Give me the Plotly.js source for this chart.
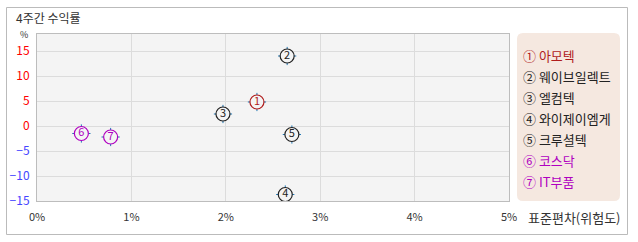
<!DOCTYPE html>
<html><head><meta charset="utf-8">
<script src="https://cdn.plot.ly/plotly-3.0.1.min.js"></script>
<style>html,body{margin:0;padding:0;background:#fff;}#c{width:638px;height:242px;}</style>
</head><body><div id="c"></div>
<script>
const names = ["아모텍","웨이브일렉트","엘컴텍","와이제이엠게","크루셜텍","코스닥","IT부품"];
const marks = ["①","②","③","④","⑤","⑥","⑦"];
const digits = ["1","2","3","4","5","6","7"];
const stdev = [2.33, 2.65, 1.97, 2.63, 2.70, 0.47, 0.78];
const ret4w = [4.8, 14.0, 2.4, -13.7, -1.7, -1.5, -2.2];
const colors = ["#b01c1c","#222222","#222222","#222222","#222222","#b000c0","#b000c0"];
const xTicks = [0,1,2,3,4,5];
const xTickText = ["0%","1%","2%","3%","4%","5%"];
const yTicks = [-15,-10,-5,0,5,10,15];

const W=638,H=242,L=37,R=509,T=34,B=201;
const px = x => (x-L)/(R-L);
const py = y => (B-y)/(B-T);
const font = "Noto Sans CJK KR, DejaVu Sans, sans-serif";

const yTickText = yTicks.map(v => `<span style="color:${v>=0?'#ff0000':'#4646ff'}">${v<0?'−'+(-v):v}</span>`);

const traces = [
  {x: stdev, y: ret4w, mode:'markers', type:'scatter', hoverinfo:'skip',
   marker:{symbol:'cross-thin-open', size:13, line:{color:colors, width:1}}},
  {x: stdev, y: ret4w, mode:'markers+text', type:'scatter', hoverinfo:'skip',
   text: digits, textposition:'middle center',
   textfont:{family:font, size:11, color:colors},
   marker:{symbol:'circle', size:14, color:'#f4f4f4', line:{color:colors, width:1.2}}}
];

// rounded legend background
const lx0=px(517), lx1=px(620), ly0=py(201), ly1=py(33);
const rx=6/(R-L), ry=6/(B-T);
const legendPath = `M ${lx0+rx} ${ly1} L ${lx1-rx} ${ly1} Q ${lx1} ${ly1} ${lx1} ${ly1-ry} L ${lx1} ${ly0+ry} Q ${lx1} ${ly0} ${lx1-rx} ${ly0} L ${lx0+rx} ${ly0} Q ${lx0} ${ly0} ${lx0} ${ly0+ry} L ${lx0} ${ly1-ry} Q ${lx0} ${ly1} ${lx0+rx} ${ly1} Z`;

const annotations = names.map((n,i)=>({
  xref:'paper', yref:'paper', x:px(521), y:py(55+i*21), xanchor:'left', yanchor:'middle',
  text: marks[i]+' '+n, showarrow:false, font:{family:font, size:13, color:colors[i]}
}));
annotations.push({xref:'paper', yref:'paper', x:px(24), y:py(34), xanchor:'center', yanchor:'middle',
  text:'%', showarrow:false, borderpad:0, font:{family:font, size:9, color:'#333'}});
annotations.push({xref:'paper', yref:'paper', x:px(526), y:py(217), xanchor:'left', yanchor:'middle',
  text:'표준편차(위험도)', showarrow:false, font:{family:font, size:13, color:'#333'}});

const layout = {
  width:W, height:H, margin:{l:L, r:W-R, t:T, b:H-B},
  paper_bgcolor:'#ffffff', plot_bgcolor:'#f4f4f4',
  showlegend:false,
  title:{text:'4주간 수익률', x:16/W, xanchor:'left', xref:'container', y:1-19/H, yanchor:'middle', yref:'container',
    font:{family:font, size:12, color:'#333'}},
  xaxis:{range:[0,5], tickvals:xTicks, ticktext:xTickText, showgrid:true, gridcolor:'#dcdcdc',
    zeroline:false, showline:true, linecolor:'#bdbdbd', mirror:true, ticks:'', ticklabelstandoff:6,
    tickfont:{family:font, size:11, color:'#333'}, fixedrange:true},
  yaxis:{range:[-15,18.4], tickvals:yTicks, ticktext:yTickText, showgrid:true, gridcolor:'#dcdcdc',
    zeroline:false, showline:true, linecolor:'#bdbdbd', mirror:true, ticks:'', ticklabelstandoff:4,
    tickfont:{family:font, size:12}, fixedrange:true},
  shapes:[
    {type:'rect', xref:'paper', yref:'paper', x0:px(6.5), x1:px(627.5), y0:py(234.5), y1:py(7.5),
     line:{color:'#bbbbbb', width:1}, fillcolor:'rgba(0,0,0,0)', layer:'below'},
    {type:'path', xref:'paper', yref:'paper', path:legendPath, fillcolor:'#f5e8e0', line:{width:0}}
  ],
  annotations: annotations
};
Plotly.newPlot('c', traces, layout, {staticPlot:true, displayModeBar:false});
</script></body></html>
